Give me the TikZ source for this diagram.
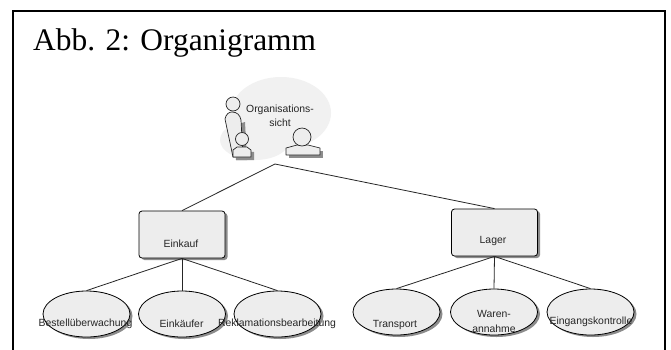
\documentclass[tikz,border=0pt]{standalone}
\usepackage{fontspec}
\setmainfont{Liberation Serif}
\newfontfamily\lab{Liberation Sans}
\usetikzlibrary{shapes.geometric}
\definecolor{fillg}{HTML}{EDEDED}
\definecolor{blob}{HTML}{F1F1F1}
\definecolor{shad}{HTML}{8C8C8C}
\tikzset{
  x=1pt,y=-1pt,
  orgbox/.style={draw=black,line width=.8pt,fill=fillg,rounded corners=3pt,minimum width=86pt,minimum height=47pt,inner sep=0pt},
  orgell/.style={draw=black,line width=.8pt,fill=fillg,ellipse,minimum width=87pt,minimum height=46pt,inner sep=0pt},
  boxshad/.style={fill=shad,rounded corners=3pt,minimum width=86pt,minimum height=47pt,inner sep=0pt},
  ellshad/.style={fill=shad,ellipse,minimum width=87pt,minimum height=46pt,inner sep=0pt},
  caption/.style={font=\lab\fontsize{10.4}{12}\selectfont,inner sep=0pt,text=black!85,align=center},
  link/.style={line width=.8pt,draw=black!85},
  frameline/.style={line width=1.6pt,draw=black,line cap=rect},
  person/.style={draw=black!85,line width=.7pt,fill=fillg,line join=round},
  persshad/.style={fill=shad}
}
\begin{document}
\begin{tikzpicture}
\useasboundingbox (0,0) rectangle (671,349);
\fill[white] (0,0) rectangle (671,349);
\coordinate (fa) at (13,349);
\coordinate (fb) at (13,11);
\coordinate (fc) at (665,11);
\coordinate (fd) at (665,349);
\draw[frameline] (fa) -- (fb) -- (fc) -- (fd);
\node[anchor=base west,inner sep=0pt,font=\fontsize{31.4}{36}\selectfont] (title) at (33,50.5) {Abb. 2: Organigramm};
% blob
\fill[blob] (281,113) ellipse [x radius=50,y radius=36];
\fill[blob] (255,140) ellipse [x radius=35,y radius=20];
% tall person
\fill[persshad] (235,125) -- (245,122) -- (247,160) -- (236,160) -- cycle;
\draw[person] (225,119) .. controls (226,114) and (229,112) .. (232,112) .. controls (237,112) and (240,115) .. (241,120) -- (243,157) -- (233,157) -- cycle;
\draw[person] (233,104) circle [radius=7];
% small person
\fill[persshad] (236,150) -- (254,152) -- (254,160) -- (236,160) -- cycle;
\draw[person] (233,157) -- (233,150) -- (237,147) -- (247,147) -- (251,150) -- (251,157) -- cycle;
\draw[person] (242,139) circle [radius=6.5];
% right person
\fill[persshad] (289,151) -- (323,151) -- (323,158) -- (289,158) -- cycle;
\draw[person] (286,155) -- (286,148) -- (297,145) -- (308,145) -- (320,148) -- (320,155) -- cycle;
\draw[person] (302,137) circle [radius=9];
\node[caption] (orgtxt) at (280,116) {Organisations-\\[2pt]sicht};
\coordinate (root) at (275,164);
% shadows
\node[boxshad] at (184.5,236.5) {};
\node[boxshad] at (497,234.5) {};
\node[ellshad] at (89,316) {};
\node[ellshad] at (184.5,316) {};
\node[ellshad] at (280,316) {};
\node[ellshad] at (399,314) {};
\node[ellshad] at (496.5,314) {};
\node[ellshad] at (593,314) {};
% nodes
\node[orgbox] (einkauf) at (182,234.5) {};
\node[orgbox] (lager) at (494.5,232.5) {};
\node[orgell] (e1) at (86.5,314) {};
\node[orgell] (e2) at (182,314) {};
\node[orgell] (e3) at (277.5,314) {};
\node[orgell] (l1) at (396.5,312) {};
\node[orgell] (l2) at (494,312) {};
\node[orgell] (l3) at (590.5,312) {};
% connectors
\draw[link] (root) -- (einkauf.north);
\draw[link] (root) -- (lager.north);
\foreach \c in {e1,e2,e3} \draw[link] (einkauf.south) -- (\c.north);
\foreach \c in {l1,l2,l3} \draw[link] (lager.south) -- (\c.north);
% labels
\node[caption] (t0) at (181,244) {Einkauf};
\node[caption] (t1) at (493,241) {Lager};
\node[caption] (t2) at (85.5,324) {Bestellüberwachung};
\node[caption] (t3) at (181.5,324) {Einkäufer};
\node[caption] (t4) at (277,324) {Reklamationsbearbeitung};
\node[caption] (t5) at (395,325) {Transport};
\node[caption] (t6) at (494,321) {Waren-\\[3pt]annahme};
\node[caption] (t7) at (591,322) {Eingangskontrolle};
\end{tikzpicture}
\end{document}
